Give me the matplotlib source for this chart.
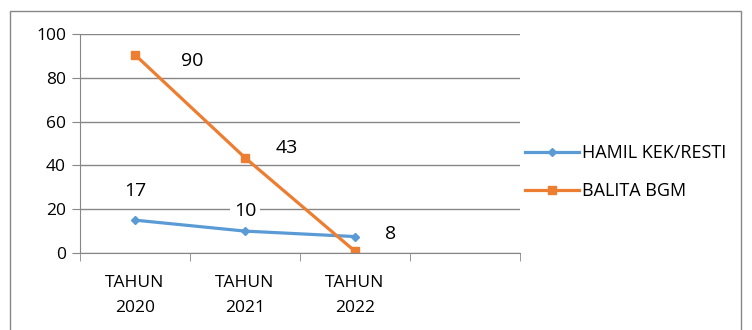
import matplotlib.pyplot as plt
from matplotlib.patches import Rectangle

categories = ["TAHUN\n2020", "TAHUN\n2021", "TAHUN\n2022", ""]
hamil = [15, 10, 7.5]
balita = [90.5, 43.5, 0.8]
hamil_labels = ["17", "10", "8"]
balita_labels = ["90", "43"]

plt.rcParams['font.family'] = ['Open Sans', 'DejaVu Sans']

fig = plt.figure(figsize=(7.52, 3.30), dpi=100)
ax = fig.add_axes([80 / 752, 1 - 253 / 330, 440 / 752, 219 / 330])

grid_c = '#868686'
ax.plot(range(len(hamil)), hamil, color='#5B9BD5', lw=2.3, marker='D', ms=4,
        label='HAMIL KEK/RESTI')
ax.plot(range(len(balita)), balita, color='#ED7D31', lw=2.3, marker='s', ms=6,
        label='BALITA BGM')

ax.set_xlim(-0.5, len(categories) - 0.5)
ax.set_ylim(0, 100)
ax.set_yticks(range(0, 101, 20))
ax.set_xticks(range(len(categories)))
ax.set_xticklabels(categories, fontsize=12.5, linespacing=1.75)
ax.set_xticks([i - 0.5 for i in range(len(categories) + 1)], minor=True)
ax.tick_params(axis='x', which='major', length=0, pad=16)
ax.tick_params(axis='x', which='minor', length=6, color=grid_c, direction='out')
ax.tick_params(axis='y', length=6, color=grid_c, labelsize=12.5, pad=4)
ax.yaxis.grid(True, color=grid_c, lw=1)
ax.set_axisbelow(True)
for s in ['top', 'right']:
    ax.spines[s].set_visible(False)
for s in ['left', 'bottom']:
    ax.spines[s].set_color(grid_c)

# data labels
for (px, py), t in zip([(0, 28.5), (1, 19), (2.32, 8.5)], hamil_labels):
    kw = dict(bbox=dict(fc='white', ec='none', pad=3)) if t == "10" else {}
    ax.text(px, py, t, ha='center', va='center', fontsize=14, **kw)
for (px, py), t in zip([(0.52, 87.5), (1.38, 48)], balita_labels):
    ax.text(px, py, t, ha='center', va='center', fontsize=14)

ax.legend(loc='center left', bbox_to_anchor=(0.995, 0.37), frameon=False,
          fontsize=13, handlelength=3.0, handletextpad=0.15, labelspacing=1.1,
          borderaxespad=0)

fig.patches.append(Rectangle((10 / 752, -0.1), 731 / 752, 1.1 - 11 / 330,
                             transform=fig.transFigure, fill=False,
                             ec='#868686', lw=1))

fig.savefig('out.png', dpi=100)
